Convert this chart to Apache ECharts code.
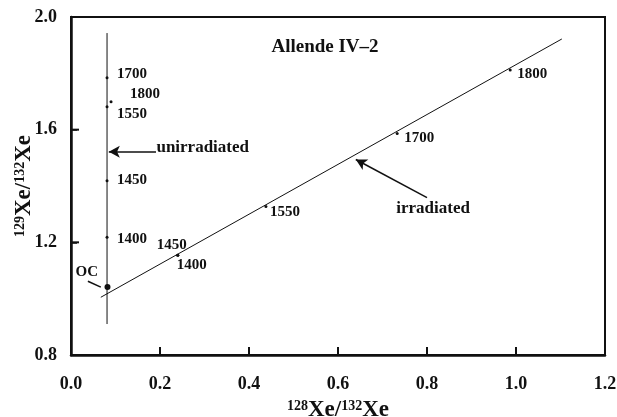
<!DOCTYPE html>
<html><head><meta charset="utf-8">
<script src="https://cdn.jsdelivr.net/npm/echarts@6/dist/echarts.min.js"></script>
<style>html,body{margin:0;padding:0;background:#fff}#c{width:617px;height:417px}</style>
</head><body><div id="c"></div>
<script>
// ---- data ----
const xTicks = [0.0, 0.2, 0.4, 0.6, 0.8, 1.0, 1.2];
const yTicks = [0.8, 1.2, 1.6, 2.0];
// unirradiated step temperatures (x, y)
const unirrLabels = ['1700', '1800', '1550', '1450', '1400'];
const unirrX = [0.081, 0.090, 0.081, 0.081, 0.081];
const unirrY = [1.784, 1.699, 1.681, 1.419, 1.218];
// OC point
const ocX = [0.082];
const ocY = [1.041];
// irradiated step temperatures
const irrLabels = ['1450', '1400', '1550', '1700', '1800'];
const irrX = [0.240, 0.240, 0.438, 0.733, 0.987];
const irrY = [1.154, 1.154, 1.327, 1.586, 1.812];
// reference lines
const vertLineX = [0.081, 0.081];
const vertLineY = [0.91, 1.943];
const irrLineX = [0.067, 1.103];
const irrLineY = [1.005, 1.922];
// annotation arrows [fromX, fromY, toX, toY]
const unirrArrow = [0.191, 1.522, 0.085, 1.522];
const irrArrow = [0.800, 1.359, 0.640, 1.494];
const ocLeader = [0.038, 1.062, 0.067, 1.041];

// ---- styles (positions of labels) ----
const unirrOffsets = [[10, -4], [19, -8], [10, 7], [10, -1], [10, 2]];
const irrOffsets = [[-21, -10], [-1, 10], [4, 6], [7, 5], [7, 4]];

const F = 'Liberation Serif, Times New Roman, serif';
const ink = '#111';
const lblStyle = {fontFamily: F, fontWeight: 'bold', fontSize: 15, color: ink, textBorderWidth: 0, opacity: 1};
const xMin = xTicks[0], xMax = xTicks[xTicks.length - 1];
const yMin = yTicks[0], yMax = yTicks[yTicks.length - 1];

function pts(xs, ys, labels, offs) {
  return xs.map((x, i) => ({
    value: [x, ys[i]],
    label: {show: true, formatter: labels[i], position: 'inside', offset: offs[i], align: 'left', verticalAlign: 'middle', ...lblStyle}
  }));
}
function seg(a) { return [[a[0], a[1]], [a[2], a[3]]]; }

const chart = echarts.init(document.getElementById('c'), null, {renderer: 'canvas'});
const axisNameRich = {
  s: {fontFamily: F, fontWeight: 'bold', fontSize: 14, color: ink, verticalAlign: 'top', padding: [0, 0, 9, 0]},
  b: {fontFamily: F, fontWeight: 'bold', fontSize: 23, color: ink}
};
chart.setOption({
  backgroundColor: '#fff',
  animation: false,
  grid: {left: 71, right: 12, top: 17, bottom: 62, outerBoundsMode: 'none', containLabel: false,
    show: true, borderColor: ink, borderWidth: 2, backgroundColor: 'transparent'},
  title: {text: 'Allende IV\u20132', left: 320, top: 33, textAlign: 'center',
    textStyle: {fontFamily: F, fontWeight: 'bold', fontSize: 19, color: ink}},
  xAxis: {
    type: 'value', min: xMin, max: xMax, interval: 0.2,
    axisLine: {show: true, onZero: false, lineStyle: {color: ink, width: 2.5}},
    axisTick: {show: true, inside: true, length: 6, lineStyle: {color: ink, width: 1.5}},
    splitLine: {show: false},
    axisLabel: {margin: 20, fontFamily: F, fontWeight: 'bold', fontSize: 18, color: ink, formatter: v => v.toFixed(1)},
    name: '{s|128}{b|Xe/}{s|132}{b|Xe}', nameLocation: 'middle', nameGap: 44, nameMoveOverlap: false,
    nameTextStyle: {rich: axisNameRich}
  },
  yAxis: {
    type: 'value', min: yMin, max: yMax, interval: 0.4,
    axisLine: {show: true, onZero: false, lineStyle: {color: ink, width: 2.5}},
    axisTick: {show: true, inside: true, length: 6, lineStyle: {color: ink, width: 1.5}},
    splitLine: {show: false},
    axisLabel: {margin: 14, fontFamily: F, fontWeight: 'bold', fontSize: 18, color: ink, formatter: v => v.toFixed(1)},
    name: '{s|129}{b|Xe/}{s|132}{b|Xe}', nameLocation: 'middle', nameGap: 35, nameRotate: 90, nameMoveOverlap: false,
    nameTextStyle: {rich: axisNameRich}
  },
  series: [
    {type: 'line', data: vertLineX.map((x, i) => [x, vertLineY[i]]), symbol: 'none', lineStyle: {color: ink, width: 1}, silent: true},
    {type: 'line', data: irrLineX.map((x, i) => [x, irrLineY[i]]), symbol: 'none', lineStyle: {color: ink, width: 1}, silent: true,
      markLine: {
        silent: true, symbol: ['none', 'arrow'], symbolSize: [9, 11],
        lineStyle: {color: ink, width: 1.5, type: 'solid', opacity: 1}, label: {show: false},
        data: [
          seg(unirrArrow).map(c => ({coord: c})),
          seg(irrArrow).map(c => ({coord: c})),
          [{coord: seg(ocLeader)[0], symbol: 'none'}, {coord: seg(ocLeader)[1], symbol: 'none'}]
        ]
      }
    },
    {type: 'scatter', data: pts(unirrX, unirrY, unirrLabels, unirrOffsets), symbolSize: 3, itemStyle: {color: ink, opacity: 1}},
    {type: 'scatter', data: pts(irrX, irrY, irrLabels, irrOffsets), symbolSize: 3, itemStyle: {color: ink, opacity: 1}},
    {type: 'scatter', data: pts(ocX, ocY, ['OC'], [[-32, -15]]), symbolSize: 6, itemStyle: {color: ink, opacity: 1}}
  ],
  graphic: []
});
// free-text annotations and inside tick marks, positioned through the axes
const unirrTextPos = [0.192, 1.535];
const irrTextPos = [0.731, 1.320];
const p1 = chart.convertToPixel({gridIndex: 0}, unirrTextPos);
const p2 = chart.convertToPixel({gridIndex: 0}, irrTextPos);
const tickEls = [];
xTicks.slice(1, -1).forEach(v => {
  const p = chart.convertToPixel({gridIndex: 0}, [v, yMin]);
  tickEls.push({type: 'rect', z: 100, shape: {x: p[0] - 1, y: p[1] - 8, width: 2, height: 8}, style: {fill: ink}});
});
yTicks.slice(1, -1).forEach(v => {
  const p = chart.convertToPixel({gridIndex: 0}, [xMin, v]);
  tickEls.push({type: 'rect', z: 100, shape: {x: p[0], y: p[1] - 1, width: 8, height: 2}, style: {fill: ink}});
});
chart.setOption({graphic: [
  {type: 'text', x: p1[0], y: p1[1], style: {text: 'unirradiated', font: 'bold 17px ' + F, fill: ink, textAlign: 'left', textVerticalAlign: 'middle'}},
  {type: 'text', x: p2[0], y: p2[1], style: {text: 'irradiated', font: 'bold 17px ' + F, fill: ink, textAlign: 'left', textVerticalAlign: 'middle'}}
].concat(tickEls)});
</script></body></html>
